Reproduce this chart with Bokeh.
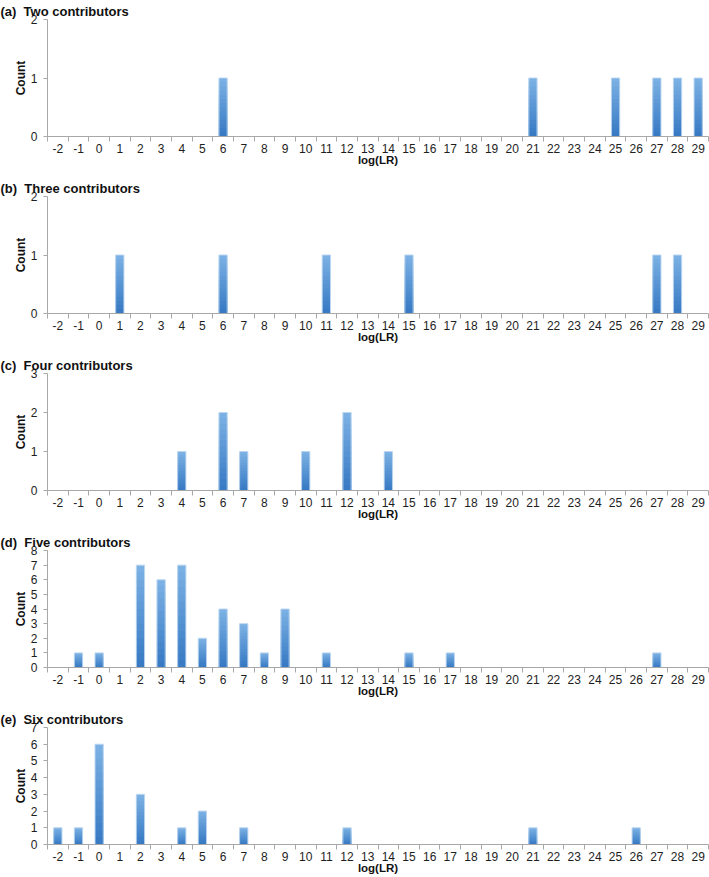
from bokeh.plotting import figure
from bokeh.layouts import column
from bokeh.models import FixedTicker, Range1d
from bokeh.embed import file_html
from bokeh.resources import INLINE

# ---- data ----
categories = list(range(-2, 30))          # log(LR) categories / tick labels
tick_labels = {c: str(c) for c in categories}

titles = ["(a)\u00a0\u00a0Two contributors", "(b)\u00a0\u00a0Three contributors",
          "(c)\u00a0\u00a0Four contributors", "(d)\u00a0\u00a0Five contributors",
          "(e)\u00a0\u00a0Six contributors"]

a_lr = [6, 21, 25, 27, 28, 29]
a_count = [1, 1, 1, 1, 1, 1]

b_lr = [1, 6, 11, 15, 27, 28]
b_count = [1, 1, 1, 1, 1, 1]

c_lr = [4, 6, 7, 10, 12, 14]
c_count = [1, 2, 1, 1, 2, 1]

d_lr = [-1, 0, 2, 3, 4, 5, 6, 7, 8, 9, 11, 15, 17, 27]
d_count = [1, 1, 7, 6, 7, 2, 4, 3, 1, 4, 1, 1, 1, 1]

e_lr = [-2, -1, 0, 2, 4, 5, 7, 12, 21, 26]
e_count = [1, 1, 6, 3, 1, 2, 1, 1, 1, 1]

y_max = [2, 2, 3, 8, 7]

panels = [(a_lr, a_count), (b_lr, b_count), (c_lr, c_count), (d_lr, d_count), (e_lr, e_count)]

FONT = "Liberation Sans"
AXIS_COL = "#a8a8a8"
TEXT_COL = "#1e1e1e"

TOP_RGB = (0x7a, 0xb0, 0xe3)
BOT_RGB = (0x38, 0x7a, 0xc4)
N_STEPS = 14

fig_heights = [177, 177, 177, 177, 168]
bottom_borders = [41, 41, 41, 41, 32]


def mix(t):
    r = [int(round(TOP_RGB[i] + (BOT_RGB[i] - TOP_RGB[i]) * t)) for i in range(3)]
    return "#%02x%02x%02x" % tuple(r)


figs = []
for k, ((lr, cnt), title, ym) in enumerate(zip(panels, titles, y_max)):
    p = figure(width=709, height=fig_heights[k], output_backend="svg", toolbar_location=None,
               x_range=Range1d(-2.5, 29.5), y_range=Range1d(0, ym),
               min_border_left=47, min_border_right=1, min_border_top=19,
               min_border_bottom=bottom_borders[k])
    p.outline_line_color = None
    p.grid.visible = False
    p.background_fill_color = "white"
    p.border_fill_color = "white"

    # gradient bars: overlapping bars, from tallest (lightest) to shortest (darkest)
    for s in range(N_STEPS):
        frac = (N_STEPS - s) / N_STEPS
        tops = [c * frac for c in cnt]
        p.vbar(x=lr, top=tops, bottom=0, width=0.4, fill_color=mix(s / (N_STEPS - 1)),
               line_color=None)
    p.vbar(x=lr, top=cnt, bottom=0, width=0.4, fill_color=None,
           line_color="#bcd6f0", line_width=1)

    # title
    p.title.text = title
    p.title.text_font = FONT
    p.title.text_font_style = "bold"
    p.title.text_font_size = "13px"
    p.title.text_color = "#111111"
    p.title.align = "left"
    p.title.offset = -47
    p.title.standoff = 2

    # x axis
    xa = p.xaxis[0]
    xa.ticker = FixedTicker(ticks=categories,
                            minor_ticks=[c - 0.5 for c in categories] + [categories[-1] + 0.5])
    xa.major_label_overrides = tick_labels
    xa.axis_label = "log(LR)"
    xa.axis_label_text_font = FONT
    xa.axis_label_text_font_style = "bold"
    xa.axis_label_text_font_size = "11.5px"
    xa.axis_label_text_color = "#111111"
    xa.axis_label_standoff = -2
    xa.major_label_text_font = FONT
    xa.major_label_text_font_size = "12px"
    xa.major_label_text_color = TEXT_COL
    xa.major_label_standoff = 2
    xa.major_tick_out = 0
    xa.major_tick_in = 0
    xa.minor_tick_out = 5
    xa.minor_tick_in = 0
    xa.minor_tick_line_color = AXIS_COL
    xa.axis_line_color = AXIS_COL

    # y axis
    ya = p.yaxis[0]
    ya.ticker = FixedTicker(ticks=list(range(0, ym + 1)))
    ya.axis_label = "Count"
    ya.axis_label_text_font = FONT
    ya.axis_label_text_font_style = "bold"
    ya.axis_label_text_font_size = "12px"
    ya.axis_label_text_color = "#111111"
    ya.axis_label_standoff = 0
    ya.major_label_text_font = FONT
    ya.major_label_text_font_size = "12px"
    ya.major_label_text_color = TEXT_COL
    ya.major_label_standoff = 6
    ya.major_tick_out = 4
    ya.major_tick_in = 0
    ya.minor_tick_out = 0
    ya.minor_tick_in = 0
    ya.major_tick_line_color = AXIS_COL
    ya.axis_line_color = AXIS_COL

    figs.append(p)

layout = column(*figs, spacing=0)
open("out.html", "w").write(file_html(layout, INLINE))
